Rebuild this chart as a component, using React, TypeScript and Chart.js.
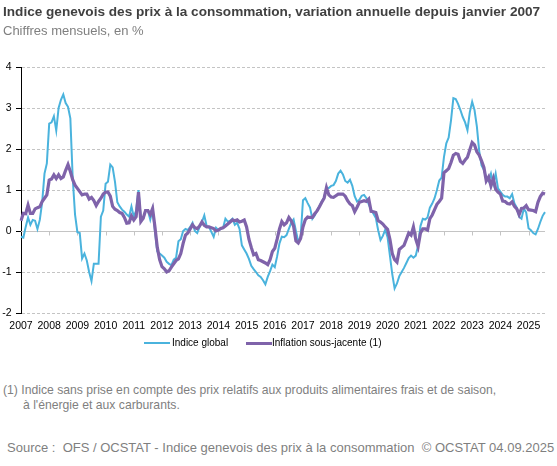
import React, { useEffect, useRef } from "react";
import { Chart, registerables } from "chart.js";

Chart.register(...registerables);

const YEARS = [2007, 2008, 2009, 2010, 2011, 2012, 2013, 2014, 2015, 2016, 2017, 2018, 2019, 2020, 2021, 2022, 2023, 2024, 2025];

// Indice global (variation annuelle, %), monthly from Jan 2007
const G_2007 = [-0.14, -0.16, 0.1, 0.33, 0.15, 0.27, 0.25, 0.05, 0.27, 0.7, 1.4, 1.65];
const G_2008 = [2.62, 2.65, 2.8, 2.45, 3.0, 3.2, 3.33, 3.12, 3.03, 2.75, 1.3, 0.4];
const G_2009 = [-0.03, -0.05, -0.67, -0.55, -0.72, -1.0, -1.22, -0.8, -0.8, -0.8, 0.35, 0.5];
const G_2010 = [1.15, 1.2, 1.62, 1.55, 1.2, 0.7, 0.6, 0.52, 0.47, 0.4, 0.35, 0.6];
const G_2011 = [0.35, 0.5, 1.0, 0.3, 0.3, 0.5, 0.5, 0.28, 0.52, 0.0, -0.5, -0.55];
const G_2012 = [-0.6, -0.65, -0.75, -0.8, -0.83, -0.7, -0.65, -0.25, -0.2, 0.0, 0.05, 0.02];
const G_2013 = [0.1, 0.2, 0.0, -0.05, 0.1, 0.22, 0.38, 0.12, 0.1, -0.02, -0.14, 0.08];
const G_2014 = [0.02, 0.05, 0.08, 0.3, 0.23, 0.25, 0.3, 0.15, 0.2, 0.05, -0.35, -0.45];
const G_2015 = [-0.55, -0.68, -0.85, -0.93, -1.0, -1.08, -1.12, -1.2, -1.3, -1.12, -0.98, -0.82];
const G_2016 = [-0.88, -0.62, -0.3, -0.14, -0.15, -0.1, 0.05, 0.2, 0.28, 0.0, -0.26, -0.15];
const G_2017 = [0.75, 0.8, 0.68, 0.57, 0.3, 0.38, 0.5, 0.6, 0.72, 0.82, 1.05, 1.05];
const G_2018 = [1.1, 1.12, 1.22, 1.4, 1.47, 1.38, 1.22, 1.18, 1.25, 1.1, 0.85, 0.72];
const G_2019 = [0.76, 0.86, 0.88, 0.8, 0.65, 0.52, 0.42, 0.32, 0.02, -0.22, -0.12, 0.03];
const G_2020 = [-0.15, -0.6, -1.05, -1.4, -1.28, -1.1, -1.0, -0.9, -0.78, -0.66, -0.6, -0.65];
const G_2021 = [-0.6, -0.35, 0.12, 0.3, 0.28, 0.33, 0.57, 0.67, 0.8, 1.0, 1.23, 1.3];
const G_2022 = [1.8, 2.14, 2.28, 2.7, 3.24, 3.22, 3.1, 2.95, 2.78, 2.65, 2.46, 2.9];
const G_2023 = [3.15, 2.95, 2.55, 1.95, 1.6, 1.49, 1.3, 1.22, 1.4, 1.15, 1.4, 1.04];
const G_2024 = [0.96, 0.88, 0.84, 0.84, 0.8, 0.9, 0.67, 0.57, 0.35, 0.3, 0.55, 0.45];
const G_2025 = [0.07, 0.02, -0.05, -0.08, 0.05, 0.22, 0.37, 0.46];

// Inflation sous-jacente (1)
const C_2007 = [0.25, 0.43, 0.42, 0.63, 0.43, 0.43, 0.54, 0.57, 0.59, 0.72, 0.8, 0.88];
const C_2008 = [1.24, 1.27, 1.37, 1.28, 1.37, 1.28, 1.32, 1.48, 1.62, 1.45, 1.25, 1.12];
const C_2009 = [1.04, 0.96, 0.88, 0.9, 0.9, 0.78, 0.82, 0.74, 0.62, 0.72, 0.8, 0.9];
const C_2010 = [0.95, 0.95, 0.85, 0.6, 0.53, 0.5, 0.45, 0.43, 0.33, 0.19, 0.2, 0.37];
const C_2011 = [0.27, 0.35, 0.95, 0.23, 0.31, 0.5, 0.5, 0.4, 0.55, 0.1, -0.4, -0.7];
const C_2012 = [-0.87, -0.92, -1.0, -0.97, -0.88, -0.8, -0.72, -0.68, -0.55, -0.3, -0.1, -0.05];
const C_2013 = [0.05, 0.15, 0.08, 0.06, 0.12, 0.22, 0.14, 0.1, 0.1, 0.08, 0.06, 0.0];
const C_2014 = [0.02, 0.06, 0.08, 0.12, 0.17, 0.22, 0.27, 0.25, 0.27, 0.22, 0.24, 0.27];
const C_2015 = [0.1, -0.2, -0.4, -0.58, -0.55, -0.7, -0.72, -0.75, -0.78, -0.82, -0.7, -0.5];
const C_2016 = [-0.42, -0.2, 0.05, 0.23, 0.15, 0.2, 0.33, 0.25, 0.12, -0.24, -0.29, -0.18];
const C_2017 = [0.1, 0.28, 0.34, 0.33, 0.33, 0.42, 0.49, 0.59, 0.7, 0.8, 1.06, 0.88];
const C_2018 = [0.83, 0.82, 0.86, 0.9, 0.9, 0.9, 0.85, 0.74, 0.66, 0.62, 0.47, 0.58];
const C_2019 = [0.7, 0.72, 0.74, 0.72, 0.78, 0.48, 0.47, 0.45, 0.25, 0.22, 0.17, 0.1];
const C_2020 = [0.04, -0.2, -0.55, -0.7, -0.76, -0.45, -0.4, -0.35, -0.2, -0.05, -0.1, 0.1];
const C_2021 = [-0.2, -0.38, -0.05, 0.05, 0.05, 0.02, 0.3, 0.39, 0.52, 0.65, 0.72, 0.8];
const C_2022 = [1.42, 1.47, 1.52, 1.67, 1.85, 1.89, 1.87, 1.7, 1.65, 1.73, 1.8, 1.98];
const C_2023 = [2.16, 2.1, 1.93, 1.85, 1.71, 1.55, 1.22, 1.32, 1.1, 1.28, 1.02, 0.95];
const C_2024 = [0.9, 0.73, 0.72, 0.67, 0.66, 0.71, 0.6, 0.54, 0.4, 0.55, 0.56, 0.62];
const C_2025 = [0.52, 0.51, 0.5, 0.47, 0.7, 0.84, 0.92, 0.9];

const GLOBAL = [
  ...G_2007, ...G_2008, ...G_2009, ...G_2010, ...G_2011, ...G_2012, ...G_2013,
  ...G_2014, ...G_2015, ...G_2016, ...G_2017, ...G_2018, ...G_2019, ...G_2020,
  ...G_2021, ...G_2022, ...G_2023, ...G_2024, ...G_2025,
];
const CORE = [
  ...C_2007, ...C_2008, ...C_2009, ...C_2010, ...C_2011, ...C_2012, ...C_2013,
  ...C_2014, ...C_2015, ...C_2016, ...C_2017, ...C_2018, ...C_2019, ...C_2020,
  ...C_2021, ...C_2022, ...C_2023, ...C_2024, ...C_2025,
];

const LABELS = GLOBAL.map(
  (_, i) => `${YEARS[Math.floor(i / 12)]}-${String((i % 12) + 1).padStart(2, "0")}`
);

const Y_MIN = -2;
const Y_MAX = 4;

const FONT = '"Liberation Sans", Arial, Helvetica, sans-serif';
const BLUE = "#4ab3dd";
const PURPLE = "#7f63aa";

const zeroLinePlugin = {
  id: "zeroLine",
  beforeDatasetsDraw(chart: any) {
    const { ctx, chartArea, scales } = chart;
    const x = scales.x;
    const y = scales.y;
    const y0 = Math.round(y.getPixelForValue(0)) + 0.5;
    ctx.save();
    ctx.strokeStyle = "#c4c4c4";
    ctx.lineWidth = 1;
    ctx.setLineDash([]);
    ctx.beginPath();
    ctx.moveTo(chartArea.left, y0);
    ctx.lineTo(chartArea.right, y0);
    for (let i = 12; i < LABELS.length; i += 12) {
      const px = Math.round(x.getPixelForValue(i)) + 0.5;
      ctx.moveTo(px, y0);
      ctx.lineTo(px, y0 + 4);
    }
    ctx.stroke();
    ctx.restore();
  },
};

function ChartCanvas() {
  const ref = useRef<HTMLCanvasElement | null>(null);
  useEffect(() => {
    if (!ref.current) return;
    const chart = new Chart(ref.current, {
      type: "line",
      data: {
        labels: LABELS,
        datasets: [
          {
            label: "Indice global",
            data: GLOBAL,
            borderColor: BLUE,
            backgroundColor: BLUE,
            borderWidth: 2,
            pointRadius: 0,
            tension: 0,
            order: 2,
          },
          {
            label: "Inflation sous-jacente (1)",
            data: CORE,
            borderColor: PURPLE,
            backgroundColor: PURPLE,
            borderWidth: 3.2,
            pointRadius: 0,
            tension: 0,
            order: 1,
          },
        ],
      },
      options: {
        responsive: false,
        animation: false,
        layout: { padding: { left: 0, right: 12, top: 67, bottom: 0 } },
        plugins: {
          legend: { display: false },
          title: { display: false },
          tooltip: { enabled: false },
        },
        scales: {
          x: {
            type: "category",
            offset: false,
            grid: { display: false, drawTicks: false },
            border: { display: false },
            ticks: {
              autoSkip: false,
              maxRotation: 0,
              minRotation: 0,
              padding: 7,
              color: "#000000",
              font: { family: FONT, size: 10.5 },
              callback: (_v: any, idx: number) =>
                idx % 12 === 0 ? String(YEARS[idx / 12]) : null,
            },
            afterFit: (s: any) => {
              s.height = 27;
            },
          },
          y: {
            min: Y_MIN,
            max: Y_MAX,
            grid: {
              color: "#c4c4c4",
              lineWidth: 1,
              drawTicks: true,
              tickLength: 5,
              tickColor: "#000000",
              tickBorderDash: [],
            },
            border: { display: true, color: "#000000", width: 1, dash: [3, 2] },
            ticks: {
              stepSize: 1,
              padding: 4.5,
              color: "#000000",
              font: { family: FONT, size: 10.5 },
              callback: (v: any) => String(v),
            },
            afterFit: (s: any) => {
              s.width = 21;
            },
          },
        },
      },
      plugins: [zeroLinePlugin],
    });
    return () => chart.destroy();
  }, []);
  return (
    <canvas
      ref={ref}
      width={557}
      height={340}
      style={{ position: "absolute", left: 0, top: 0, width: 557, height: 340 }}
    />
  );
}

export default function App() {
  const txt: React.CSSProperties = { position: "absolute", whiteSpace: "nowrap", fontFamily: FONT, lineHeight: 1 };
  return (
    <div style={{ position: "absolute", left: 0, top: 0, width: 557, height: 466, background: "#ffffff", overflow: "hidden" }}>
      <ChartCanvas />
      <div style={{ ...txt, left: 3, top: 5, fontSize: 13.6, fontWeight: "bold", color: "#404040" }}>
        Indice genevois des prix à la consommation, variation annuelle depuis janvier 2007
      </div>
      <div style={{ ...txt, left: 3, top: 23.5, fontSize: 13, color: "#7f7f7f" }}>
        Chiffres mensuels, en %
      </div>
      <div style={{ position: "absolute", left: 144, top: 342, width: 26, height: 2, background: BLUE }} />
      <div style={{ ...txt, left: 172, top: 338, fontSize: 10, color: "#000000" }}>Indice global</div>
      <div style={{ position: "absolute", left: 246, top: 341.5, width: 26, height: 3, background: PURPLE }} />
      <div style={{ ...txt, left: 272, top: 338, fontSize: 10, color: "#000000" }}>Inflation sous-jacente (1)</div>
      <div style={{ ...txt, left: 3, top: 384, fontSize: 12.2, color: "#7f7f7f" }}>
        (1) Indice sans prise en compte des prix relatifs aux produits alimentaires frais et de saison,
      </div>
      <div style={{ ...txt, left: 23, top: 399, fontSize: 12.2, color: "#7f7f7f" }}>
        à l'énergie et aux carburants.
      </div>
      <div style={{ ...txt, left: 7, top: 440.5, fontSize: 13, color: "#7f7f7f" }}>
        Source :&nbsp; OFS / OCSTAT - Indice genevois des prix à la consommation&nbsp; © OCSTAT 04.09.2025
      </div>
    </div>
  );
}
